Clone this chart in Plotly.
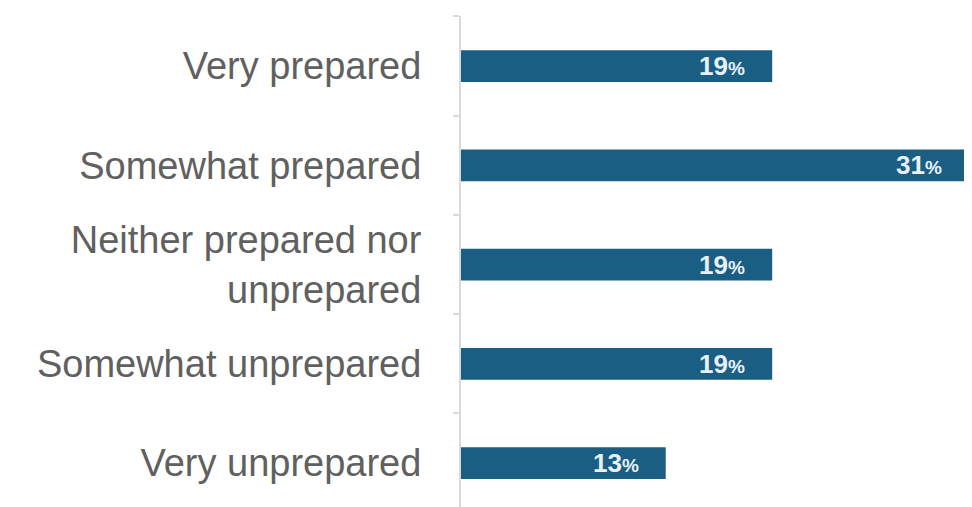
import plotly.graph_objects as go

# data (bottom to top)
categories = ["Very unprepared", "Somewhat unprepared", "Neither prepared nor<br>unprepared",
              "Somewhat prepared", "Very prepared"]
values = [12.5, 19, 19, 31, 19]
numbers = ["13", "19", "19", "31", "19"]

bar_color = "#1b5e84"

fig = go.Figure()
fig.add_trace(go.Bar(
    x=values,
    y=categories,
    orientation="h",
    marker=dict(color=bar_color, line=dict(width=0)),
    width=0.32,
    showlegend=False,
    hoverinfo="skip",
))

# value labels inside the bar ends (smaller % sign)
for cat, val, num in zip(categories, values, numbers):
    fig.add_annotation(
        x=val, y=cat,
        text="<b>" + num + "<span style='font-size:19px'>%</span></b>",
        xanchor="right", yanchor="middle", xshift=-25,
        showarrow=False,
        font=dict(family="Liberation Sans, Arial, sans-serif", size=26, color="#e6f1f8"),
    )

# the page body has an 8px margin, so the figure is sized to fit the window
fig.update_layout(
    width=964, height=499,
    margin=dict(l=453, r=0, t=8, b=0),
    paper_bgcolor="white",
    plot_bgcolor="white",
    font=dict(family="Liberation Sans, Arial, sans-serif", color="#606060"),
)

fig.update_xaxes(
    range=[0, 31.2],
    showgrid=False, zeroline=False, showticklabels=False, showline=False,
    fixedrange=True,
)

fig.update_yaxes(
    type="category",
    range=[-0.443, 4.504],
    showgrid=False, zeroline=False,
    showline=True, linecolor="#d9d9d9", linewidth=2,
    ticks="outside", tickson="boundaries", ticklen=6, tickcolor="#d9d9d9", tickwidth=2,
    ticklabelstandoff=30,
    tickfont=dict(size=38, color="#606060"),
    fixedrange=True,
)

fig.write_html("out.html")
